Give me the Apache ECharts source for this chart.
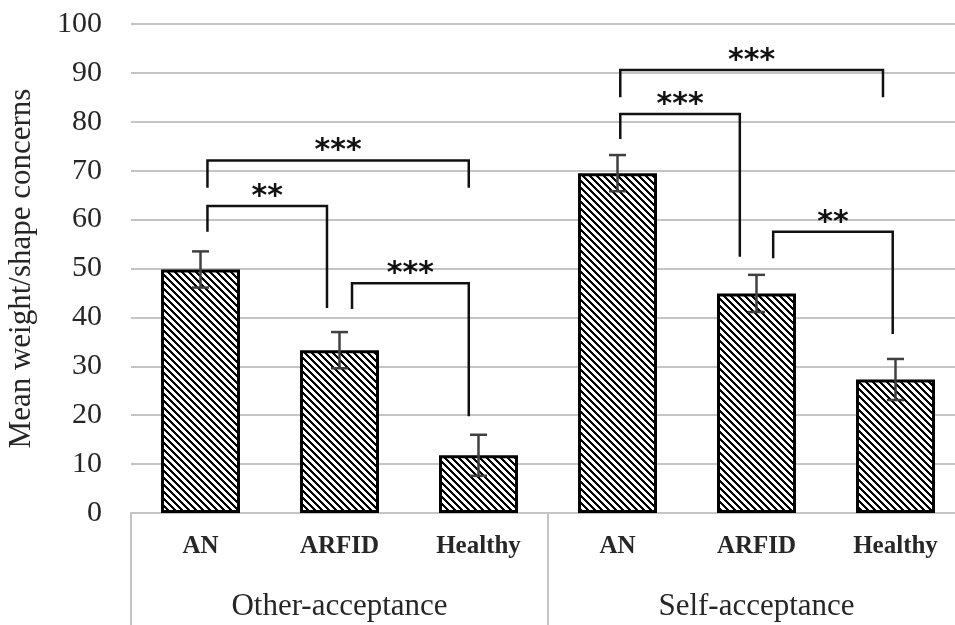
<!DOCTYPE html>
<html>
<head>
<meta charset="utf-8">
<title>Mean weight/shape concerns</title>
<script src="https://cdn.jsdelivr.net/npm/echarts/dist/echarts.min.js"></script>
<style>
html, body { margin: 0; padding: 0; background: #fff; }
#chart { width: 955px; height: 625px; }
</style>
</head>
<body>
<div id="chart"></div>
<script>
const groups = ['Other-acceptance', 'Self-acceptance'];
const categories = ['AN', 'ARFID', 'Healthy', 'AN', 'ARFID', 'Healthy'];
const means = [49.8, 33.3, 11.8, 69.5, 44.9, 27.3];
const errors = [3.7, 3.7, 4.2, 3.7, 3.8, 4.2];
const yTicks = [0, 100, 10]; // min, max, step

// significance brackets (x in bar-index units)
const bracketFrom = [0.05, 0.05, 1.09, 3.02, 3.02, 4.12];
const bracketTo = [0.91, 1.93, 1.93, 4.91, 3.88, 4.98];
const bracketTop = [62.8, 72.1, 47.0, 90.6, 81.6, 57.5];
const bracketLeftEnd = [57.5, 66.5, 41.7, 85.0, 76.5, 52.1];
const bracketRightEnd = [41.9, 66.5, 19.8, 85.0, 52.4, 36.6];
const bracketLabels = ['**', '***', '***', '***', '***', '**'];

// hatch fill "\\\\"
const hatch = document.createElement('canvas');
hatch.width = 7;
hatch.height = 7;
const hctx = hatch.getContext('2d');
hctx.fillStyle = '#fff';
hctx.fillRect(0, 0, 7, 7);
hctx.fillStyle = '#000';
for (let y = 0; y < 7; y++) {
  for (let k = 0; k < 3; k++) hctx.fillRect((y + k) % 7, y, 1, 1);
}

const serif = '"Liberation Serif", "Times New Roman", serif';
const gridGray = '#c4c4c4';

const chart = echarts.init(document.getElementById('chart'));

chart.setOption({
  animation: false,
  backgroundColor: '#fff',
  // plot runs a bit past the right edge, like the original
  grid: { left: 131, right: -10, top: 24, bottom: 112, containLabel: false, outerBoundsMode: 'none' },
  xAxis: [
    {
      type: 'category',
      data: categories,
      position: 'bottom',
      axisLine: { show: true, lineStyle: { color: gridGray, width: 2 } },
      axisTick: { show: false },
      axisLabel: { interval: 0, margin: 21, fontFamily: serif, fontSize: 25, fontWeight: 'bold', color: '#262626' }
    },
    {
      type: 'category',
      data: groups,
      position: 'bottom',
      axisLine: { show: false },
      axisTick: { show: true, length: 115, lineStyle: { color: gridGray, width: 2 } },
      axisLabel: { interval: 0, margin: 78, fontFamily: serif, fontSize: 31, color: '#262626' }
    },
    { type: 'value', min: -0.5, max: 5.5, show: false }
  ],
  yAxis: {
    type: 'value',
    min: yTicks[0],
    max: yTicks[1],
    interval: yTicks[2],
    name: 'Mean weight/shape concerns',
    nameLocation: 'middle',
    nameGap: 94,
    nameTextStyle: { fontFamily: serif, fontSize: 31, color: '#262626' },
    axisLine: { show: false },
    axisTick: { show: false },
    axisLabel: { margin: 29, fontFamily: serif, fontSize: 30, color: '#262626' },
    splitLine: { lineStyle: { color: gridGray, width: 2 } }
  },
  series: [
    {
      type: 'bar',
      xAxisIndex: 0,
      data: means,
      barWidth: 79,
      itemStyle: { color: { image: hatch, repeat: 'repeat' }, borderColor: '#000', borderWidth: 3 },
      z: 2
    },
    {
      type: 'custom',
      xAxisIndex: 0,
      data: means.map((m, i) => [i, m, errors[i]]),
      encode: { x: 0, y: 1 },
      z: 5,
      renderItem: (params, api) => {
        const x = api.value(0), m = api.value(1), e = api.value(2);
        const hi = api.coord([x, m + e]);
        const lo = api.coord([x, m - e]);
        const st = { stroke: '#404040', lineWidth: 2.5 };
        const half = 8.5;
        return {
          type: 'group',
          children: [
            { type: 'line', shape: { x1: hi[0], y1: hi[1], x2: lo[0], y2: lo[1] }, style: st },
            { type: 'line', shape: { x1: hi[0] - half, y1: hi[1], x2: hi[0] + half, y2: hi[1] }, style: st },
            { type: 'line', shape: { x1: lo[0] - half, y1: lo[1], x2: lo[0] + half, y2: lo[1] }, style: st }
          ]
        };
      }
    },
    {
      type: 'custom',
      xAxisIndex: 2,
      data: bracketFrom.map((f, i) => [f, bracketTo[i], bracketTop[i], bracketLeftEnd[i], bracketRightEnd[i]]),
      encode: { x: [0, 1], y: [2, 3, 4] },
      z: 6,
      renderItem: (params, api) => {
        const from = api.value(0), to = api.value(1), top = api.value(2);
        const a = api.coord([from, api.value(3)]);
        const b = api.coord([from, top]);
        const c = api.coord([to, top]);
        const d = api.coord([to, api.value(4)]);
        return {
          type: 'group',
          children: [
            { type: 'polyline', shape: { points: [a, b, c, d] }, style: { stroke: '#111', lineWidth: 2.5, fill: null } },
            {
              type: 'text',
              x: (b[0] + c[0]) / 2,
              y: b[1] - 9,
              style: {
                text: bracketLabels[params.dataIndex],
                fontFamily: '"DejaVu Sans", sans-serif',
                fontWeight: 'bold',
                fontSize: 30,
                fill: '#111',
                align: 'center',
                verticalAlign: 'middle'
              }
            }
          ]
        };
      }
    }
  ]
});
</script>
</body>
</html>
